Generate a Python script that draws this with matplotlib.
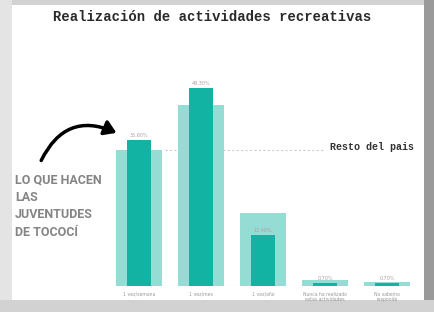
import matplotlib.pyplot as plt
import matplotlib.patches as mpatches
import numpy as np

# Data (percent)
categories = ['1 vez/semana', '1 vez/mes', '1 vez/año',
              'Nunca ha realizado\nestas actividades', 'No sabe/no\nresponde']
jovenes = [35.6, 48.3, 12.4, 0.7, 0.7]      # dark bars
resto_pais = [33.2, 44.1, 17.8, 1.5, 1.0]   # light bars

title = 'Realización de actividades recreativas'
ref_label = 'Resto del pais'
side_text = 'LO QUE HACEN\nLAS\nJUVENTUDES\nDE TOCOCÍ'

W, H = 434, 312
dark = '#12b3a3'
light = '#95dcd4'

fig = plt.figure(figsize=(W / 100, H / 100), dpi=100)
fig.patch.set_facecolor('#d2d2d2')

def fx(px):
    return px / W

def fy(py):
    return 1 - py / H

# white card
card = mpatches.Rectangle((fx(12), fy(300)), fx(412), 295 / H,
                          transform=fig.transFigure, facecolor='white',
                          edgecolor='none', zorder=-2)
fig.patches.append(card)
# lighter left strip and darker right edge shadow
fig.patches.append(mpatches.Rectangle((0, fy(300)), fx(12), 300 / H,
                                      transform=fig.transFigure, facecolor='#e4e4e4',
                                      edgecolor='none', zorder=-2))
fig.patches.append(mpatches.Rectangle((fx(424), fy(300)), fx(10), 300 / H,
                                      transform=fig.transFigure, facecolor='#9a9a9a',
                                      edgecolor='none', zorder=-2))

ax = fig.add_axes([fx(108), fy(286), 310 / W, 246 / H])
ax.set_zorder(1)
ax.set_facecolor('none')
x = np.arange(len(categories))

ax.bar(x, resto_pais, width=0.74, color=light, zorder=1)
ax.bar(x, jovenes, width=0.39, color=dark, zorder=2)
for xi, v in zip(x, jovenes):
    ax.text(xi, v + 0.6, f'{v:.2f}%', ha='center', va='bottom',
            fontsize=3.5, color='#b59aa8', zorder=3)

ax.axhline(0, color=light, lw=0.8, zorder=0)
# reference line for rest of country
ax.plot([0.42, 3.0], [resto_pais[0], resto_pais[0]], color='#cccccc',
        lw=0.8, ls=(0, (2, 2)), zorder=0)
ax.text(3.08, resto_pais[0] + 0.6, ref_label, fontsize=7.2,
        family='Liberation Mono', fontweight='bold', color='#333333',
        ha='left', va='center')

ax.set_xlim(-0.5, 4.5)
ax.set_ylim(0, 60)
ax.set_xticks(x)
ax.set_xticklabels(categories, fontsize=3.3, color='#9a9a9a')
ax.tick_params(length=0, pad=4)
ax.set_yticks([])
for s in ax.spines.values():
    s.set_visible(False)

fig.text(fx(212), fy(17), title, ha='center', va='center', fontsize=10,
         family='Liberation Mono', fontweight='bold', color='#2a2a2a')

fig.text(fx(15), fy(206), side_text, ha='left', va='center', fontsize=9,
         family='Roboto', fontweight='bold', color='#858585', linespacing=1.45)

fig.patches.append(mpatches.FancyArrowPatch(
    (fx(40), fy(163)), (fx(119), fy(134)), transform=fig.transFigure,
    connectionstyle='arc3,rad=-0.5', arrowstyle='-|>,head_length=7,head_width=4.5',
    color='black', lw=2.5, zorder=5))

fig.savefig('out.png', dpi=100, facecolor=fig.get_facecolor())
